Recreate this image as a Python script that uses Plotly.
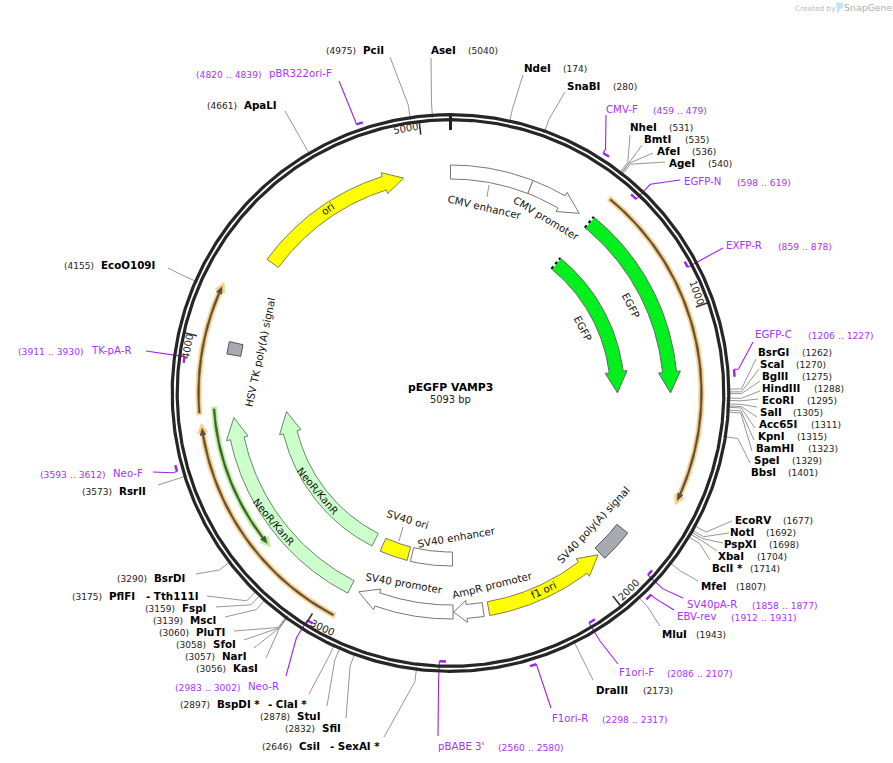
# pEGFP VAMP3 plasmid map
import numpy as np
import plotly.graph_objects as go

plasmid_len = 5093

# Restriction sites
site_names = ["PciI", "AseI", "NdeI", "SnaBI", "NheI", "BmtI", "AfeI", "AgeI",
              "BsrGI", "ScaI", "BglII", "HindIII", "EcoRI", "SalI", "Acc65I", "KpnI",
              "BamHI", "SpeI", "BbsI", "EcoRV", "NotI", "PspXI", "XbaI", "BclI *",
              "MfeI", "MluI", "DraIII", "CsiI", "SfiI", "StuI", "BspDI *", "KasI",
              "NarI", "SfoI", "PluTI", "MscI", "FspI", "PflFI", "BsrDI", "RsrII",
              "EcoO109I", "ApaLI"]
site_bp = [4975, 5040, 174, 280, 531, 535, 536, 540,
           1262, 1270, 1275, 1288, 1295, 1305, 1311, 1315,
           1323, 1329, 1401, 1677, 1692, 1698, 1704, 1714,
           1807, 1943, 2173, 2646, 2832, 2878, 2897, 3056,
           3057, 3058, 3060, 3139, 3159, 3175, 3290, 3573,
           4155, 4661]

# Second enzyme sharing a label line
extra_names = ["- SexAI *", "- ClaI *", "- Tth111I"]

# Primers
primer_names = ["CMV-F", "EGFP-N", "EXFP-R", "EGFP-C", "SV40pA-R", "EBV-rev", "F1ori-F",
                "F1ori-R", "pBABE 3'", "Neo-R", "Neo-F", "TK-pA-R", "pBR322ori-F"]
primer_start = [459, 598, 859, 1206, 1858, 1912, 2086, 2298, 2560, 2983, 3593, 3911, 4820]
primer_end = [479, 619, 878, 1227, 1877, 1931, 2107, 2317, 2580, 3002, 3612, 3930, 4839]
primer_outer = [True, False, False, True, False, True, False, True, False, False, True, False, True]

# Features drawn as arrows: start goes to end, the head sits at end
arrow_names = ["CMV enhancer", "CMV promoter", "EGFP", "EGFP", "ori", "f1 ori", "AmpR promoter",
               "SV40 promoter", "SV40 enhancer", "SV40 ori", "NeoR/KanR", "NeoR/KanR",
               "SV40 poly(A) signal", "HSV TK poly(A) signal"]
arrow_start = [0, 300, 553, 553, 4330, 2405, 2425, 2537, 2537, 2752, 2931, 2931, 1815, 3960]
arrow_end = [300, 504, 1273, 1273, 4919, 1947, 2535, 2897, 2736, 2886, 3728, 3728, 1938, 4005]

# Thin primer-like bands
band_start = [553, 3749, 2934, 3772]
band_end = [1648, 4189, 3722, 3246]

tick_bp = [1000, 2000, 3000, 4000, 5000]

# ---- layout of the map, in page pixels ----
cx, cy = 450.5, 393

arrow_track = [221, 221, 220, 167, 220, 219, 219, 219, 166, 166, 218, 165, 219, 220]
arrow_head = [0, 21, 21, 21, 20, 20, 13, 20, 0, 0, 21, 21, 0, 0]
arrow_fill = ["#ffffff", "#ffffff", "#00f01e", "#00f01e", "#ffff00", "#ffff00", "#ffffff",
              "#ffffff", "#ffffff", "#ffff00", "#ccffcc", "#ccffcc", "#a6abb3", "#a6abb3"]
arrow_edge = ["#777777", "#777777", "#666666", "#666666", "#808050", "#808050", "#777777",
              "#777777", "#777777", "#777777", "#668866", "#668866", "#555555", "#555555"]
arrow_text_x = [485, 546, 631, 583, 327, 543, 492, 404, 456, 407, 274, 318, 593, 260]
arrow_text_y = [207, 218, 305, 328, 209, 590, 585, 583, 537, 519, 522, 491, 525, 352]
arrow_text_rot = [13, 31, 63, 63, -35, -25, -14, 10, -10, 17, 50, 50, -47, -78]

band_track = [251, 252, 251, 237]
band_glow = ["#fdd08a", "#fdd08a", "#fdd08a", "#bdf0a0"]
band_core = ["#5a5040", "#5a5040", "#5a5040", "#3f5c2c"]

tick_text_x = [697, 628, 322, 187, 405]
tick_text_y = [292, 590, 627, 347, 128]
tick_text_rot = [70, -45, 25, -80, -10]

site_name_x = [363, 431, 524, 567, 630, 644, 657, 669,
               758, 760, 762, 762, 762, 760, 759, 758,
               756, 754, 751, 735, 730, 724, 718, 712,
               701, 662, 596, 299, 322, 297, 217, 233,
               222, 213, 196, 190, 182, 109, 154, 119,
               101, 244]
site_num_x = [326, 468, 563, 613, 669, 685, 692, 708,
              802, 796, 802, 814, 807, 793, 811, 797,
              808, 792, 788, 783, 766, 769, 757, 750,
              736, 696, 643, 262, 285, 260, 180, 196,
              185, 176, 159, 153, 145, 72, 117, 82,
              64, 207]
site_y = [50, 50, 68, 86, 127, 139, 151, 163,
          352, 364, 376, 388, 400, 412, 424, 436,
          448, 460, 472, 520, 532, 544, 556, 568,
          586, 634, 690, 746, 728, 716, 704, 668,
          656, 644, 632, 620, 608, 596, 578, 491,
          265, 105]
leader_x = [390, 431, 523, 565, 630, 642, 653, 665,
            756, 759, 760, 760, 758, 757, 757, 755,
            754, 752, 750, 732, 729, 723, 717, 710,
            698, 660, 593, 384, 346, 327, 309, 266,
            254, 244, 234, 225, 216, 207, 196, 158,
            168, 285]
leader_y = [57, 58, 75, 92, 135, 145, 153, 162,
            359, 369, 381, 391, 399, 407, 417, 428,
            440, 451, 463, 521, 533, 543, 551, 560,
            581, 626, 680, 737, 718, 706, 694, 658,
            648, 640, 631, 617, 607, 596, 574, 485,
            268, 111]
extra_x = [330, 268, 146]
extra_y = [746, 704, 596]

primer_name_x = [606, 684, 726, 755, 687, 677, 619, 552, 438, 248, 113, 91, 269]
primer_num_x = [653, 737, 778, 808, 752, 731, 667, 602, 498, 175, 40, 18, 196]
primer_y = [109, 181, 245, 334, 604, 616, 672, 718, 746, 686, 473, 350, 73]
primer_end_x = [606, 680, 723, 753, 683, 674, 618, 551, 438, 286, 153, 146, 339]
primer_end_y = [115, 180, 248, 342, 598, 610, 664, 708, 736, 676, 472, 351, 81]


def polar(bp, r):
    ang = 2 * np.pi * np.asarray(bp, dtype=float) / plasmid_len
    return cx + r * np.sin(ang), cy - r * np.cos(ang)


def arc_bp(a, b):
    return np.linspace(a, b, max(2, int(abs(b - a) / 8) + 2))


def arrow_shape(start, end, r, width, head_len, head_width):
    # outline of a curved band, with a head when head_len is above zero
    sign = 1 if end > start else -1
    head_bp = head_len / (2 * np.pi * r) * plasmid_len
    neck = end - sign * head_bp
    ox, oy = polar(arc_bp(start, neck), r + width / 2)
    ix, iy = polar(arc_bp(neck, start), r - width / 2)
    xs, ys = list(ox), list(oy)
    if head_len > 0:
        hx, hy = polar([neck, end, neck], np.array([r + head_width / 2, r, r - head_width / 2]))
        xs += list(hx)
        ys += list(hy)
    xs += list(ix)
    ys += list(iy)
    return xs + xs[:1], ys + ys[:1]


def add_line(x, y, color, width, dash=None):
    fig.add_trace(go.Scatter(x=x, y=y, mode="lines", hoverinfo="skip",
                             line=dict(color=color, width=width, dash=dash)))


def add_shape(x, y, fill, edge, edge_width=1):
    fig.add_trace(go.Scatter(x=x, y=y, mode="lines", fill="toself", fillcolor=fill, hoverinfo="skip",
                             line=dict(color=edge, width=edge_width)))


def add_text(x, y, text, size, color="#000000", bold=False, anchor="left", rot=0):
    label = f"<b>{text}</b>" if bold else text
    fig.add_annotation(x=x, y=y, text=label, showarrow=False, xanchor=anchor, yanchor="middle",
                       textangle=rot, font=dict(family="DejaVu Sans", size=size, color=color),
                       borderpad=0, borderwidth=0)


fig = go.Figure()

# Site leader lines
for bp, ex, ey in zip(site_bp, leader_x, leader_y):
    x0, y0 = polar(bp, 276)
    x1, y1 = polar(bp, 291)
    add_line([x0, x1, ex], [y0, y1, ey], "#969696", 1)

# Primers
purple = "#a020f0"
purple_text = "#aa33f7"
for start, end, outer, ex, ey in zip(primer_start, primer_end, primer_outer, primer_end_x, primer_end_y):
    r = 284.5 if outer else 268.5
    attach = start if outer else end
    x0, y0 = polar(attach, r)
    x1, y1 = polar(attach, 289)
    add_line([x0, x1, ex], [y0, y1, ey], purple, 1.1)
    mx, my = polar(arc_bp(start, end), r)
    add_line(mx, my, purple, 2.4)

# Thin bands
for start, end, r, glow, core in zip(band_start, band_end, band_track, band_glow, band_core):
    x, y = arrow_shape(start, end, r, 5.5, 10, 11)
    add_shape(x, y, glow, glow, 0.5)
    sign = 1 if end > start else -1
    pad = 2 / (2 * np.pi * r) * plasmid_len
    x, y = arrow_shape(start + sign * pad, end - sign * 2.5 * pad, r, 1.8, 7, 6)
    add_shape(x, y, core, core, 0.5)

# Features
for i in range(len(arrow_names)):
    x, y = arrow_shape(arrow_start[i], arrow_end[i], arrow_track[i], 14, arrow_head[i], 22)
    add_shape(x, y, arrow_fill[i], arrow_edge[i])

# Cut ends of the two EGFP arrows
for i in [2, 3]:
    lx, ly = polar([arrow_start[i], arrow_start[i]], np.array([arrow_track[i] - 7, arrow_track[i] + 7]))
    add_line(lx, ly, "#ffffff", 2)
    add_line(lx, ly, "#000000", 2, "dot")

# Small leaders of two feature labels
add_line([489, 487], [185, 197], "#777777", 0.8)
add_line([403, 399], [527, 541], "#777777", 0.8)

# Backbone
for r in [278.3, 273.3]:
    x, y = polar(arc_bp(0, plasmid_len), r)
    add_line(x, y, "#262626", 3.2)

# Ticks
for bp in tick_bp:
    x, y = polar([bp, bp], np.array([272, 260]))
    add_line(x, y, "#333333", 1.6)
x, y = polar([0, 0], np.array([277, 263]))
add_line(x, y, "#222222", 3)

# Texts
for i in range(len(arrow_names)):
    add_text(arrow_text_x[i], arrow_text_y[i], arrow_names[i], 10.3, "#111111", anchor="center", rot=arrow_text_rot[i])
for i, bp in enumerate(tick_bp):
    add_text(tick_text_x[i], tick_text_y[i], str(bp), 10, "#222222", anchor="center", rot=tick_text_rot[i])
for i, name in enumerate(site_names):
    add_text(site_name_x[i], site_y[i], name, 10.3, bold=True)
    add_text(site_num_x[i], site_y[i] + 1, f"({site_bp[i]})", 9, "#222222")
for i, name in enumerate(extra_names):
    add_text(extra_x[i], extra_y[i], name, 10.3, bold=True)
for i, name in enumerate(primer_names):
    add_text(primer_name_x[i], primer_y[i], name, 10.2, purple_text)
    add_text(primer_num_x[i], primer_y[i] + 1, f"({primer_start[i]} .. {primer_end[i]})", 9.2, purple_text)

add_text(450, 387, "pEGFP VAMP3", 10.8, bold=True, anchor="center")
add_text(450.5, 399, "5093 bp", 9.9, "#222222", anchor="center")

# Watermark
add_text(795, 8, "Created by", 7.4, "#bcbcbc")
add_text(844, 7.5, "SnapGene", 9.4, "#a8b0b4")
fig.add_shape(type="path", path="M 836 2 L 843 3 L 843 8 L 839.5 9 L 839 13 L 837 12 Z",
              fillcolor="#bfe6fb", line=dict(width=0))

fig.update_xaxes(range=[0, 893], visible=False, fixedrange=True)
fig.update_yaxes(range=[763, 0], visible=False, fixedrange=True)
fig.update_layout(width=893, height=763, margin=dict(l=0, r=0, t=0, b=0), showlegend=False,
                  paper_bgcolor="white", plot_bgcolor="white")

fig.write_html("out.html", include_plotlyjs=True, config=dict(displayModeBar=False),
               post_script="document.body.style.margin='0';document.body.style.overflow='hidden';")
